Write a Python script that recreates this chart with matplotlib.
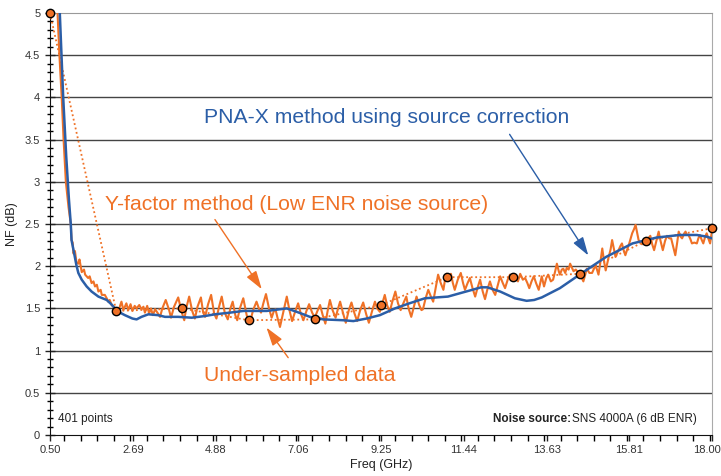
import matplotlib.pyplot as plt
from matplotlib.ticker import MultipleLocator, FixedLocator, FuncFormatter
from matplotlib.transforms import ScaledTranslation

plt.rcParams['font.family'] = ['Liberation Sans', 'DejaVu Sans']

ORANGE = '#ef7126'
BLUE = '#2b5ea7'

# Y-factor measurement (orange, jagged)
yf_freq = [0.70, 0.75, 0.81, 0.86, 0.92, 0.99, 1.05, 1.07, 1.10, 1.12, 1.16, 1.20, 1.25, 1.28,
           1.34, 1.40, 1.43, 1.51, 1.55, 1.60, 1.65, 1.69, 1.74, 1.78, 1.84, 1.87, 1.95, 2.00,
           2.04, 2.08, 2.13, 2.18, 2.22, 2.30,
           2.39, 2.44, 2.52, 2.57, 2.63, 2.68, 2.74, 2.79, 2.86, 2.92, 2.97, 3.01, 3.07, 3.12,
           3.17, 3.22, 3.28, 3.34, 3.41, 3.47, 3.56, 3.65, 3.70, 3.78, 3.89, 3.98, 4.05, 4.10,
           4.18, 4.26, 4.33, 4.40, 4.49, 4.55, 4.60, 4.68, 4.76, 4.84, 4.90, 4.97, 5.04, 5.12,
           5.20, 5.27, 5.33, 5.40, 5.45, 5.52, 5.61, 5.70, 5.78, 5.87, 5.96, 6.03, 6.08, 6.14,
           6.21, 6.29, 6.36, 6.42, 6.46, 6.52, 6.58, 6.67, 6.76, 6.83, 6.90, 6.98, 7.06, 7.13,
           7.20, 7.28, 7.35, 7.43, 7.50, 7.57, 7.64, 7.71, 7.78, 7.84, 7.90, 7.97, 8.05, 8.11,
           8.17, 8.25, 8.32, 8.40, 8.47, 8.55, 8.62, 8.70, 8.78, 8.86, 8.93, 9.01, 9.09, 9.15,
           9.22, 9.28, 9.35, 9.41, 9.48, 9.55, 9.63, 9.70, 9.77, 9.85, 9.92, 9.98, 10.05, 10.12,
           10.19, 10.26, 10.32, 10.36, 10.43, 10.50, 10.57, 10.63, 10.70, 10.76, 10.83, 10.90,
           10.95, 10.98, 11.05, 11.10, 11.15, 11.20, 11.28, 11.36, 11.42, 11.47, 11.54, 11.60,
           11.67, 11.74, 11.80, 11.87, 11.94, 12.00, 12.06, 12.13, 12.20, 12.27, 12.34, 12.40,
           12.47, 12.53, 12.60, 12.66, 12.73, 12.80, 12.87, 12.93, 13.00, 13.06, 13.12, 13.17,
           13.23, 13.29, 13.35, 13.42, 13.50, 13.56, 13.62, 13.67, 13.74, 13.80, 13.86, 13.90,
           13.95, 13.98, 14.03, 14.07, 14.12, 14.16, 14.21, 14.25, 14.30, 14.34, 14.40, 14.47,
           14.54, 14.60, 14.65, 14.69, 14.76, 14.83, 14.88, 14.92, 14.96, 15.00, 15.05, 15.10,
           15.15, 15.19, 15.23, 15.27, 15.32, 15.36, 15.41, 15.45, 15.49, 15.53, 15.58, 15.62,
           15.67, 15.71, 15.76, 15.80, 15.85, 15.89, 15.94, 15.98, 16.02, 16.06, 16.11, 16.15,
           16.22, 16.28, 16.33, 16.37, 16.42, 16.47, 16.53, 16.59, 16.64, 16.70, 16.76, 16.81,
           16.87, 16.92, 16.98, 17.03, 17.08, 17.12, 17.17, 17.21, 17.26, 17.30, 17.34, 17.38,
           17.43, 17.47, 17.53, 17.60, 17.64, 17.68, 17.73, 17.77, 17.82, 17.86, 17.91, 17.95,
           18.00]
yf_nf = [5.00, 4.50, 4.00, 3.50, 3.00, 2.70, 2.50, 2.31, 2.28, 2.15, 2.18, 2.05, 2.03, 2.08,
         1.93, 1.96, 1.90, 1.86, 1.88, 1.80, 1.82, 1.76, 1.78, 1.70, 1.72, 1.66, 1.66, 1.62,
         1.58, 1.60, 1.54, 1.52, 1.47, 1.46,
         1.58, 1.48, 1.56, 1.48, 1.55, 1.47, 1.53, 1.50, 1.54, 1.49, 1.52, 1.45, 1.53, 1.44,
         1.50, 1.42, 1.49, 1.45, 1.40, 1.50, 1.60, 1.48, 1.39, 1.52, 1.63, 1.46, 1.36, 1.50,
         1.64, 1.47, 1.38, 1.52, 1.63, 1.45, 1.40, 1.55, 1.66, 1.44, 1.38, 1.52, 1.64, 1.45,
         1.37, 1.50, 1.58, 1.42, 1.36, 1.50, 1.62, 1.42, 1.32, 1.48, 1.58, 1.49, 1.45, 1.56,
         1.67, 1.50, 1.39, 1.47, 1.49, 1.38, 1.28, 1.46, 1.64, 1.48, 1.35, 1.46, 1.56, 1.44,
         1.36, 1.47, 1.55, 1.45, 1.39, 1.47, 1.54, 1.42, 1.32, 1.47, 1.60, 1.48, 1.39, 1.49,
         1.58, 1.44, 1.33, 1.48, 1.57, 1.44, 1.35, 1.48, 1.57, 1.43, 1.33, 1.46, 1.58, 1.50,
         1.46, 1.55, 1.66, 1.54, 1.46, 1.58, 1.70, 1.56, 1.48, 1.57, 1.64, 1.50, 1.40, 1.52,
         1.64, 1.54, 1.48, 1.49, 1.62, 1.72, 1.64, 1.58, 1.75, 1.90, 1.80, 1.72,
         1.86, 1.91, 1.88, 1.91, 1.80, 1.72, 1.84, 1.92, 1.80, 1.72, 1.80, 1.86,
         1.74, 1.64, 1.74, 1.84, 1.70, 1.61, 1.72, 1.82, 1.72, 1.66, 1.78, 1.88,
         1.80, 1.74, 1.84, 1.90, 1.84, 1.88, 1.82, 1.91, 1.84, 1.86, 1.80, 1.74,
         1.82, 1.88, 1.80, 1.72, 1.88, 1.76, 1.86, 1.90, 1.82, 1.84, 1.95, 2.03,
         1.94, 1.90, 1.96, 1.97, 1.92, 1.98, 1.96, 2.03, 1.98, 1.94, 1.96, 1.92,
         1.88, 1.82, 1.90, 1.97, 1.92, 1.92, 1.97, 2.01, 1.96, 1.90, 2.05, 2.21,
         2.05, 1.95, 2.03, 2.11, 2.20, 2.31, 2.20, 2.11, 2.15, 2.19, 2.24, 2.27,
         2.18, 2.13, 2.20, 2.25, 2.33, 2.39, 2.44, 2.49, 2.40, 2.31, 2.28, 2.26,
         2.32, 2.30, 2.34, 2.36, 2.26, 2.19, 2.30, 2.41, 2.30, 2.19, 2.30, 2.36,
         2.33, 2.33, 2.22, 2.13, 2.28, 2.41, 2.35, 2.33, 2.38, 2.41, 2.37, 2.37,
         2.32, 2.27, 2.28, 2.27, 2.33, 2.37, 2.31, 2.27, 2.35, 2.39, 2.32, 2.27,
         2.42]

# PNA-X with source correction (blue, smooth)
pna_freq = [0.76, 0.85, 0.93, 1.00, 1.05, 1.07, 1.14, 1.20, 1.25, 1.34, 1.47, 1.60, 1.78,
            2.00, 2.12, 2.22, 2.31, 2.48, 2.68, 2.79, 2.92, 3.10, 3.36, 3.54, 3.89, 4.25, 4.60,
            4.86, 5.26, 5.61, 6.23, 6.58, 6.76, 7.02, 7.20, 7.37, 7.72, 8.25, 8.52, 8.87,
            9.22, 9.62, 10.00, 10.41, 11.02, 11.50, 11.90, 12.06, 12.40, 12.79, 13.10, 13.30,
            13.50, 13.98, 14.50, 15.20, 15.90, 16.54, 17.15, 17.60, 17.86, 18.00]
pna_nf = [5.00, 4.00, 3.30, 2.80, 2.50, 2.31, 2.15, 2.01, 1.92, 1.84, 1.76, 1.70, 1.64,
          1.60, 1.55, 1.50, 1.46, 1.42, 1.38, 1.37, 1.40, 1.43, 1.42, 1.40, 1.40, 1.39, 1.41,
          1.43, 1.45, 1.47, 1.47, 1.49, 1.50, 1.46, 1.43, 1.40, 1.37, 1.36, 1.35, 1.38,
          1.42, 1.50, 1.56, 1.62, 1.64, 1.70, 1.75, 1.75, 1.70, 1.62, 1.59, 1.60,
          1.63, 1.74, 1.90, 2.11, 2.27, 2.34, 2.37, 2.37, 2.35, 2.33]

# under-sampled Y-factor points
us_freq = [0.50, 2.25, 4.00, 5.75, 7.50, 9.25, 11.00, 12.75, 14.50, 16.25, 18.00]
us_nf = [5.00, 1.47, 1.50, 1.36, 1.37, 1.54, 1.87, 1.87, 1.91, 2.30, 2.45]

x_ticks = [0.50, 2.69, 4.88, 7.06, 9.25, 11.44, 13.63, 15.81, 18.00]
x_labels = ['0.50', '2.69', '4.88', '7.06', '9.25', '11.44', '13.63', '15.81', '18.00']

fig = plt.figure(figsize=(7.21, 4.76), dpi=100)
ax = fig.add_axes([0.0693, 0.0861, 0.9182, 0.8866])

for yv in [0.5, 1.0, 1.5, 2.0, 2.5, 3.0, 3.5, 4.0, 4.5]:
    ax.axhline(yv, color='#444444', lw=1.0, zorder=1)

ax.plot(us_freq, us_nf, color=ORANGE, lw=1.3, ls=(0, (1, 1.5)), zorder=3)
ax.plot(yf_freq, yf_nf, color=ORANGE, lw=1.5, zorder=4)
ax.plot(pna_freq, pna_nf, color=BLUE, lw=1.8, zorder=5)
ax.plot(us_freq, us_nf, ls='none', marker='o', ms=6, mfc=ORANGE, mec='black',
        mew=1.0, zorder=6, clip_on=False)

ax.set_xlim(0.5, 18.0)
ax.set_ylim(0, 5)
ax.xaxis.set_major_locator(FixedLocator(x_ticks))
ax.set_xticklabels(x_labels)
ax.xaxis.set_minor_locator(MultipleLocator(0.4375))
ax.yaxis.set_major_locator(MultipleLocator(0.5))
ax.yaxis.set_minor_locator(MultipleLocator(0.1))
ax.yaxis.set_major_formatter(FuncFormatter(lambda v, p: f'{v:g}'))
ax.tick_params(axis='both', which='major', labelsize=8, colors='#222222',
               labelcolor='#333333')
ax.tick_params(axis='x', which='both', direction='out', length=4, width=1)
ax.tick_params(axis='x', which='major', pad=3)
ax.tick_params(axis='y', which='major', direction='inout', length=7, width=1)
ax.tick_params(axis='y', which='minor', direction='inout', length=5, width=1)

# nudge the last x label so it stays inside the figure
last = ax.get_xticklabels()[-1]
last.set_transform(last.get_transform() + ScaledTranslation(-5 / 100, 0, fig.dpi_scale_trans))

ax.spines['top'].set_color('#999999')
ax.spines['right'].set_color('#aaaaaa')
ax.spines['left'].set_color('#111111')
ax.spines['bottom'].set_color('#111111')

ax.set_xlabel('Freq (GHz)', fontsize=9, color='#222222', labelpad=3)
ax.set_ylabel('NF (dB)', fontsize=9, color='#222222', labelpad=5)

ax.text(9.41, 3.76, 'PNA-X method using source correction', color=BLUE,
        fontsize=15.2, ha='center', va='center')
ax.text(7.03, 2.73, 'Y-factor method (Low ENR noise source)', color=ORANGE,
        fontsize=15.2, ha='center', va='center')
ax.text(7.11, 0.70, 'Under-sampled data', color=ORANGE,
        fontsize=15.2, ha='center', va='center')

arrow_style = '-|>,head_length=0.8,head_width=0.25'
ax.annotate('', xy=(14.77, 2.10), xytext=(12.61, 3.59),
            arrowprops=dict(arrowstyle=arrow_style, color=BLUE, lw=1.0, mutation_scale=14))
ax.annotate('', xy=(6.14, 1.70), xytext=(4.82, 2.58),
            arrowprops=dict(arrowstyle=arrow_style, color=ORANGE, lw=1.0, mutation_scale=14))
ax.annotate('', xy=(6.18, 1.30), xytext=(6.84, 0.89),
            arrowprops=dict(arrowstyle=arrow_style, color=ORANGE, lw=1.0, mutation_scale=14))

ax.text(0.71, 0.19, '401 points', fontsize=8.5, color='#222222', va='center')
ax.text(17.60, 0.19, 'SNS 4000A (6 dB ENR)', fontsize=8.5, color='#222222',
        ha='right', va='center')
ax.text(14.27, 0.19, 'Noise source:', fontsize=8.5, color='#222222', fontweight='bold',
        ha='right', va='center')

fig.savefig('out.png', dpi=100)
